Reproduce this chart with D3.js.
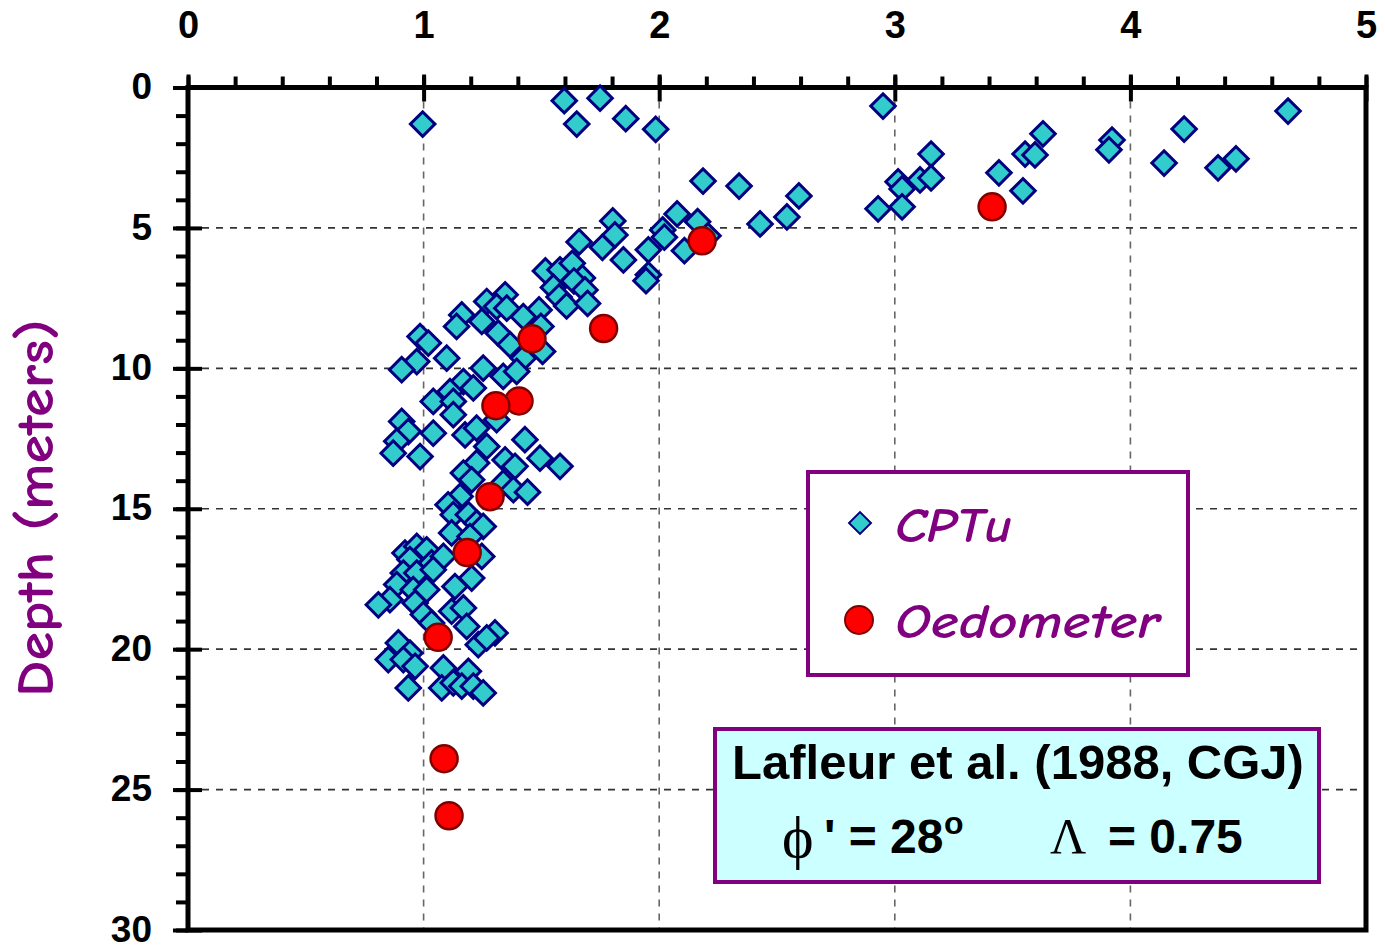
<!DOCTYPE html>
<html>
<head>
<meta charset="utf-8">
<script src="https://cdn.jsdelivr.net/npm/d3@7"></script>
<style>
  body { margin: 0; background: #fff; }
  svg { display: block; }
</style>
</head>
<body>
<svg id="chart" width="1385" height="949"></svg>
<script>
// CPTu profile: ratio (top axis) and depth in metres
const cptuRatio = [
  0.996, 1.597, 1.749, 1.650, 1.858, 1.985, 2.950, 3.629, 3.922, 3.909,
  4.228, 4.669, 3.154, 3.553, 3.595, 4.143, 4.372, 4.448, 2.186, 2.339,
  3.442, 3.014, 3.107, 3.154, 3.031, 3.544, 2.593, 2.929, 3.031, 2.542,
  2.428, 2.076, 2.163, 2.015, 2.022, 2.207, 2.107, 1.954, 1.954, 1.944,
  1.803, 1.812, 1.759, 1.848, 1.660, 1.517, 1.579, 1.631, 1.674, 1.638,
  1.551, 1.685, 1.575, 1.607, 1.696, 1.490, 1.423, 1.498, 1.505, 1.346,
  1.268, 1.310, 1.353, 1.162, 1.140, 1.247, 1.317, 1.367, 1.423, 0.985,
  1.020, 1.098, 0.971, 0.907, 1.253, 1.338, 1.395, 1.169, 1.211, 1.112,
  1.041, 1.126, 1.126, 1.310, 0.907, 0.935, 1.041, 1.176, 1.225, 0.886,
  0.871, 0.985, 1.268, 1.430, 1.494, 1.579, 1.346, 1.388, 1.225, 1.169,
  1.204, 1.338, 1.381, 1.441, 1.155, 1.104, 1.126, 1.190, 1.225, 1.253,
  1.119, 1.197, 0.921, 0.971, 1.013, 0.942, 1.034, 1.084, 1.247, 0.914,
  0.971, 1.041, 1.204, 0.886, 0.857, 0.808, 0.956, 1.013, 0.964, 1.133,
  0.999, 1.034, 1.119, 1.169, 1.183, 1.232, 1.303, 1.268, 0.893, 0.850,
  0.942, 0.914, 0.964, 1.084, 1.190, 1.077, 1.126, 1.162, 1.211, 1.253,
  0.935
];
const cptuDepth = [
  1.30, 0.47, 0.38, 1.30, 1.11, 1.49, 0.66, 1.65, 1.87, 2.22,
  1.48, 0.84, 2.37, 2.37, 2.40, 2.69, 2.86, 2.54, 3.33, 3.51,
  3.04, 3.36, 3.29, 3.22, 3.61, 3.68, 3.86, 4.32, 4.25, 4.61,
  4.86, 4.50, 4.78, 5.07, 5.33, 5.28, 5.81, 5.78, 6.67, 6.88,
  4.75, 5.25, 5.69, 6.14, 5.50, 6.53, 6.49, 6.26, 6.78, 6.89,
  7.12, 7.21, 7.46, 7.78, 7.69, 7.92, 8.16, 8.51, 9.40, 7.38,
  7.62, 7.80, 7.86, 8.10, 8.51, 8.33, 8.75, 9.16, 9.64, 8.87,
  9.10, 9.64, 9.76, 10.05, 9.99, 10.29, 10.11, 10.47, 10.70, 10.83,
  11.18, 11.18, 11.65, 11.83, 11.89, 12.25, 12.31, 12.37, 12.13, 12.60,
  13.02, 13.14, 12.78, 12.54, 13.20, 13.49, 13.26, 13.49, 13.37, 13.73,
  13.97, 14.09, 14.32, 14.41, 14.56, 14.86, 15.21, 15.21, 15.51, 15.63,
  15.86, 15.99, 16.58, 16.34, 16.46, 16.81, 16.93, 16.70, 16.70, 17.29,
  17.29, 17.17, 17.47, 17.70, 18.24, 18.42, 17.88, 17.88, 18.36, 17.77,
  18.77, 19.07, 18.65, 18.53, 19.19, 19.84, 19.42, 19.60, 19.78, 20.37,
  20.14, 20.37, 20.61, 20.67, 20.79, 21.38, 21.20, 21.32, 21.32, 21.56,
  21.38
];
// Oedometer results
const oedoRatio = [3.413, 2.182, 1.764, 1.460, 1.405, 1.307, 1.282, 1.185, 1.062, 1.087, 1.108];
const oedoDepth = [4.25, 5.46, 8.58, 8.95, 11.16, 11.33, 14.57, 16.56, 19.58, 23.90, 25.93];

const xMajorTicks = [0, 1, 2, 3, 4, 5];
const yMajorTicks = [0, 5, 10, 15, 20, 25, 30];
const xGridValues = [1, 2, 3, 4];
const yGridValues = [5, 10, 15, 20, 25];

const seriesNames = ["CPTu", "Oedometer"];
const yTitle = "Depth (meters)";
const sourceLine = "Lafleur et al. (1988, CGJ)";

const svg = d3.select("#chart");
const plotLeft = 188, plotRight = 1366, plotTop = 87.5, plotBottom = 930;

const x = d3.scaleLinear().domain([0, 5]).range([plotLeft, plotRight]);
const y = d3.scaleLinear().domain([0, 30]).range([plotTop, plotBottom]);

const purple = "#800080";
const tickFont = "'Liberation Sans', Arial, sans-serif";
const comicFont = "'Comic Sans MS', 'Comic Neue', Lato, 'Open Sans', sans-serif";

// grid
const grid = svg.append("g");
grid.selectAll("line.gx").data(xGridValues).join("line")
  .attr("x1", d => x(d)).attr("x2", d => x(d))
  .attr("y1", plotTop).attr("y2", plotBottom)
  .attr("stroke", "#666").attr("stroke-width", 1.6).attr("stroke-dasharray", "7,7");
grid.selectAll("line.gy").data(yGridValues).join("line")
  .attr("x1", plotLeft).attr("x2", plotRight)
  .attr("y1", d => y(d)).attr("y2", d => y(d))
  .attr("stroke", "#333").attr("stroke-width", 1.6).attr("stroke-dasharray", "7,7");

// axes
function styleAxis(g) {
  g.select(".domain").remove();
  g.selectAll(".tick line").attr("stroke", "#000").attr("stroke-width", 4);
}
const minorX = d3.range(0, 5.0001, 0.2);
svg.append("g").attr("transform", `translate(0,${plotTop})`)
  .call(d3.axisTop(x).tickValues(minorX).tickSize(11).tickFormat(""))
  .call(styleAxis);
svg.append("g").attr("transform", `translate(0,${plotTop})`)
  .call(d3.axisTop(x).tickValues(xMajorTicks).tickSize(13).tickFormat(""))
  .call(styleAxis);
svg.append("g").attr("transform", `translate(0,${plotTop})`)
  .call(d3.axisTop(x).tickValues(xMajorTicks.slice(1)).tickSize(-14).tickFormat(""))
  .call(styleAxis);
const xLab = svg.append("g").attr("transform", `translate(0,${plotTop})`)
  .call(d3.axisTop(x).tickValues(xMajorTicks).tickSize(0).tickPadding(50).tickFormat(d3.format("d")));
xLab.select(".domain").remove();
xLab.selectAll("text").attr("font-family", tickFont).attr("font-weight", "bold")
  .attr("font-size", 38).attr("fill", "#000");

const minorY = d3.range(0, 30.0001, 1);
svg.append("g").attr("transform", `translate(${plotLeft},0)`)
  .call(d3.axisLeft(y).tickValues(minorY).tickSize(12).tickFormat(""))
  .call(styleAxis);
svg.append("g").attr("transform", `translate(${plotLeft},0)`)
  .call(d3.axisLeft(y).tickValues(yMajorTicks).tickSize(15).tickFormat(""))
  .call(styleAxis);
svg.append("g").attr("transform", `translate(${plotLeft},0)`)
  .call(d3.axisLeft(y).tickValues(yMajorTicks.slice(1)).tickSize(-14).tickFormat(""))
  .call(styleAxis);
const yLab = svg.append("g").attr("transform", `translate(${plotLeft},0)`)
  .call(d3.axisLeft(y).tickValues(yMajorTicks).tickSize(0).tickPadding(36).tickFormat(d3.format("d")));
yLab.select(".domain").remove();
yLab.selectAll("text").attr("font-family", tickFont).attr("font-weight", "bold")
  .attr("font-size", 37).attr("dy", "0.3em").attr("fill", "#000");

// frame
svg.append("rect")
  .attr("x", plotLeft).attr("y", plotTop)
  .attr("width", plotRight - plotLeft).attr("height", plotBottom - plotTop)
  .attr("fill", "none").attr("stroke", "#000").attr("stroke-width", 5);

// y title
svg.append("text")
  .attr("transform", "translate(53,508) rotate(-90)")
  .attr("text-anchor", "middle")
  .attr("font-family", comicFont).attr("font-weight", "bold")
  .attr("font-size", 52).attr("fill", purple)
  .attr("textLength", 378).attr("lengthAdjust", "spacingAndGlyphs")
  .text(yTitle);

// markers
const diamond = d3.symbol().type(d3.symbolSquare).size(300);
const cptu = cptuRatio.map((v, i) => ({ r: v, d: cptuDepth[i] }));
const oedo = oedoRatio.map((v, i) => ({ r: v, d: oedoDepth[i] }));

svg.append("g").selectAll("path").data(cptu).join("path")
  .attr("d", diamond)
  .attr("transform", d => `translate(${x(d.r)},${y(d.d)}) rotate(45)`)
  .attr("fill", "#33CCCC").attr("stroke", "#000080").attr("stroke-width", 3);

svg.append("g").selectAll("circle").data(oedo).join("circle")
  .attr("cx", d => x(d.r)).attr("cy", d => y(d.d)).attr("r", 13.5)
  .attr("fill", "#FF0000").attr("stroke", "#800000").attr("stroke-width", 2.5);

// legend
const lg = svg.append("g");
lg.append("rect").attr("x", 808).attr("y", 472).attr("width", 380).attr("height", 203)
  .attr("fill", "#fff").attr("stroke", purple).attr("stroke-width", 4);
lg.append("path").attr("d", d3.symbol().type(d3.symbolSquare).size(240))
  .attr("transform", "translate(860,523) rotate(45)")
  .attr("fill", "#33CCCC").attr("stroke", "#000080").attr("stroke-width", 2);
lg.append("circle").attr("cx", 859).attr("cy", 620).attr("r", 14)
  .attr("fill", "#FF0000").attr("stroke", "#800000").attr("stroke-width", 2);
lg.append("text").attr("x", 895).attr("y", 542)
  .attr("font-family", comicFont).attr("font-weight", "bold").attr("font-style", "italic")
  .attr("font-size", 48).attr("fill", purple)
  .attr("textLength", 117).attr("lengthAdjust", "spacingAndGlyphs")
  .text(seriesNames[0]);
lg.append("text").attr("x", 895).attr("y", 638)
  .attr("font-family", comicFont).attr("font-weight", "bold").attr("font-style", "italic")
  .attr("font-size", 48).attr("fill", purple)
  .attr("textLength", 265).attr("lengthAdjust", "spacingAndGlyphs")
  .text(seriesNames[1]);

// parameter box
const pb = svg.append("g");
pb.append("rect").attr("x", 715).attr("y", 729).attr("width", 604).attr("height", 153)
  .attr("fill", "#CCFFFF").attr("stroke", purple).attr("stroke-width", 4);
pb.append("text").attr("x", 1018).attr("y", 779).attr("text-anchor", "middle")
  .attr("font-family", tickFont).attr("font-weight", "bold").attr("font-size", 49)
  .attr("fill", "#000").text(sourceLine);
const serif = "'Liberation Serif', 'DejaVu Serif', serif";
pb.append("text").attr("x", 782).attr("y", 857)
  .attr("font-family", serif).attr("font-size", 60).attr("fill", "#000").text("\u03D5");
pb.append("text").attr("x", 824).attr("y", 853)
  .attr("font-family", tickFont).attr("font-weight", "bold").attr("font-size", 48)
  .attr("fill", "#000").text("' = 28");
pb.append("text").attr("x", 944).attr("y", 834)
  .attr("font-family", tickFont).attr("font-weight", "bold").attr("font-size", 32)
  .attr("fill", "#000").text("o");
pb.append("text").attr("x", 1050).attr("y", 853)
  .attr("font-family", serif).attr("font-size", 50).attr("fill", "#000").text("\u039B");
pb.append("text").attr("x", 1108).attr("y", 853)
  .attr("font-family", tickFont).attr("font-weight", "bold").attr("font-size", 48)
  .attr("fill", "#000").text("= 0.75");
</script>
</body>
</html>
